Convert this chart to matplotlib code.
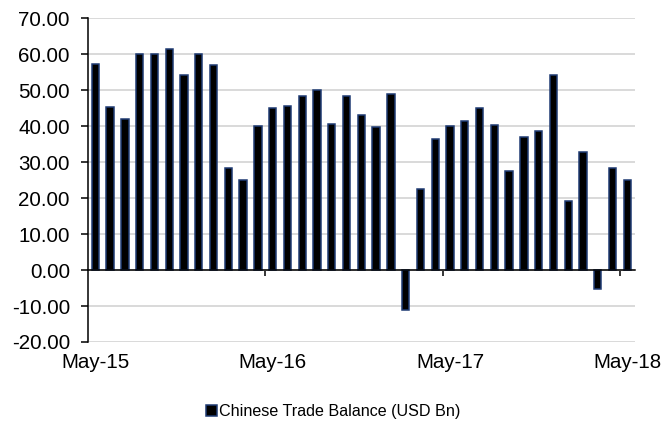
# Chinese monthly trade balance, May-15 to May-18, bar chart

import numpy as np
import matplotlib.pyplot as plt

plt.rcParams['font.family'] = ['Liberation Sans', 'DejaVu Sans']

months = ['May-15', 'Jun-15', 'Jul-15', 'Aug-15', 'Sep-15', 'Oct-15', 'Nov-15', 'Dec-15',
          'Jan-16', 'Feb-16', 'Mar-16', 'Apr-16', 'May-16', 'Jun-16', 'Jul-16', 'Aug-16',
          'Sep-16', 'Oct-16', 'Nov-16', 'Dec-16', 'Jan-17', 'Feb-17', 'Mar-17', 'Apr-17',
          'May-17', 'Jun-17', 'Jul-17', 'Aug-17', 'Sep-17', 'Oct-17', 'Nov-17', 'Dec-17',
          'Jan-18', 'Feb-18', 'Mar-18', 'Apr-18', 'May-18']
balance = [57.2, 45.3, 42.0, 60.0, 60.0, 61.4, 54.2, 60.0,
           57.0, 28.3, 25.1, 40.0, 45.0, 45.5, 48.4, 50.2,
           40.6, 48.3, 43.2, 39.8, 48.9, -11.1, 22.6, 36.5,
           40.0, 41.5, 45.0, 40.3, 27.6, 37.0, 38.7, 54.3,
           19.3, 32.8, -5.3, 28.4, 25.1]
label_every = 12
series_name = 'Chinese Trade Balance (USD Bn)'

y_ticks = np.arange(-20, 71, 10)

def main():
  fig = plt.figure(figsize=(6.66, 4.23), dpi=100)
  ax = fig.add_axes([0.1321, 0.1915, 0.8209, 0.7652])

  x = np.arange(len(balance))
  ax.bar(x, balance, width=0.5, color='black', edgecolor='#1f3b73',
         linewidth=1.1, label=series_name, zorder=3)

  ax.set_xlim(-0.5, len(balance) - 0.5)
  ax.set_ylim(y_ticks[0], y_ticks[-1])
  ax.set_yticks(y_ticks)
  ax.set_yticklabels(['%.2f' % v for v in y_ticks])
  ax.yaxis.grid(True, color='#d9d9d9', linewidth=1.4, zorder=0)
  ax.set_axisbelow(True)

  for s in ['top', 'right']:
    ax.spines[s].set_visible(False)
  ax.spines['left'].set_linewidth(1.1)
  ax.spines['bottom'].set_linewidth(1.1)
  ax.spines['bottom'].set_position(('data', 0))
  ax.spines['bottom'].set_zorder(4)

  # tick marks on the zero line sit at the year boundaries
  ax.set_xticks(x[label_every::label_every] - 0.5)
  ax.set_xticklabels([])
  ax.tick_params(axis='x', direction='out', length=4, width=1.1)
  ax.tick_params(axis='y', direction='out', length=5, width=1.1, labelsize=14.8, pad=8)

  # month labels at the bottom of the plot
  sec = ax.secondary_xaxis('bottom')
  sec.set_xticks(x[::label_every])
  sec.set_xticklabels(months[::label_every])
  sec.spines['bottom'].set_visible(False)
  sec.tick_params(length=0, labelsize=14.8, pad=8)

  fig.legend(loc='center', bbox_to_anchor=(0.5, 0.027), frameon=False,
             fontsize=11.6, handlelength=0.7, handleheight=0.7, handletextpad=0.12)

  fig.savefig('out.png', dpi=100)


if __name__ == '__main__':
  main()
